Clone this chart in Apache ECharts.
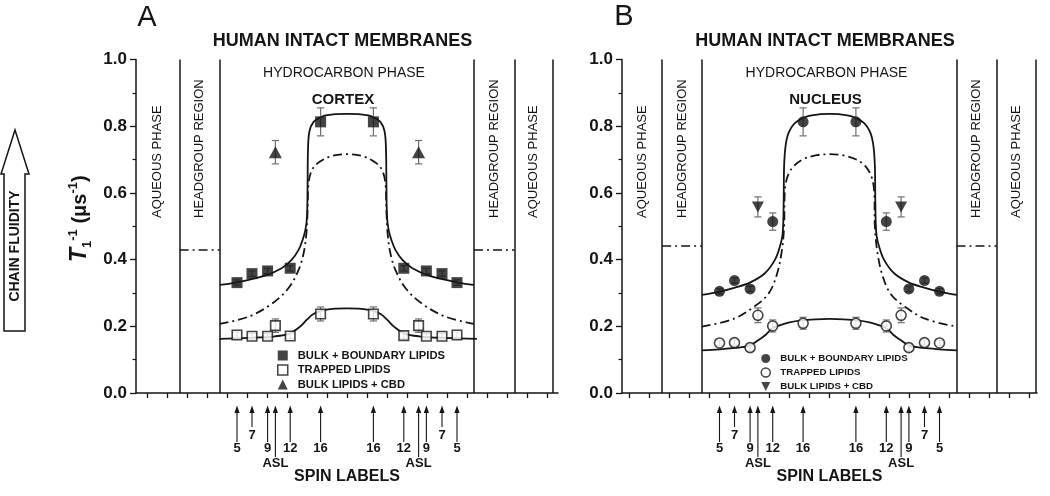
<!DOCTYPE html>
<html><head><meta charset="utf-8">
<script src="https://cdn.jsdelivr.net/npm/echarts@6/dist/echarts.min.js"></script>
<style>html,body{margin:0;padding:0;background:#fff}#c{width:1050px;height:496px}</style>
</head><body><div id="c"></div>
<script>
// ---------------- data ----------------
const spinLabels = ['5','7','9','ASL','12','16','16','12','ASL','9','7','5'];
const spinPos = [-5.5,-4.75,-3.97,-3.58,-2.84,-1.32,1.32,2.84,3.58,3.97,4.75,5.5];
const regionBounds = [-8.37,-6.37,6.35,8.37,10.3];
const xTicks = [-10,-9,-8,-7,-6,-5,-4,-3,-2,-1,0,1,2,3,4,5,6,7,8,9,10];
const headgroupLevelA = 0.43;
const headgroupLevelB = 0.443;

// Panel A : cortex
const cortexBulkX = [-5.5,-4.75,-3.97,-2.84,-1.32,1.32,2.84,3.97,4.75,5.5];
const cortexBulkY = [0.331,0.358,0.366,0.374,0.813,0.813,0.374,0.366,0.358,0.331];
const cortexBulkErr = [0.008,0.008,0.008,0.008,0.042,0.042,0.008,0.008,0.008,0.008];
const cortexTrappedX = [-5.5,-4.75,-3.97,-3.58,-2.84,-1.32,1.32,2.84,3.58,3.97,4.75,5.5];
const cortexTrappedY = [0.174,0.170,0.170,0.202,0.171,0.237,0.237,0.172,0.202,0.170,0.170,0.174];
const cortexTrappedErr = [0.008,0.008,0.008,0.02,0.008,0.021,0.021,0.008,0.02,0.008,0.008,0.008];
const cortexCbdX = [-3.58,3.58];
const cortexCbdY = [0.722,0.722];
const cortexCbdErr = [0.035,0.035];
const cortexFitBulkX = [-6.37,-5.57,-4.1,-3.27,-2.77,-2.42,-2.22,-2.08,-2.0,-1.97,-1.95,-1.88,-1.67,-1.25,-0.58,0,0.58,1.25,1.67,1.88,1.95,1.97,2.0,2.08,2.22,2.42,2.77,3.27,4.1,5.57,6.35];
const cortexFitBulkY = [0.324,0.331,0.352,0.374,0.399,0.429,0.459,0.489,0.529,0.629,0.729,0.784,0.813,0.829,0.836,0.837,0.836,0.829,0.813,0.784,0.729,0.629,0.529,0.489,0.459,0.429,0.399,0.374,0.352,0.331,0.324];
const cortexFitDashX = [-6.37,-4.92,-3.77,-2.93,-2.42,-2.17,-2.03,-1.97,-1.92,-1.75,-1.42,-0.75,0,0.75,1.42,1.75,1.92,1.97,2.03,2.17,2.42,2.93,3.77,4.92,6.35];
const cortexFitDashY = [0.207,0.229,0.267,0.314,0.369,0.419,0.479,0.549,0.629,0.669,0.691,0.711,0.716,0.711,0.691,0.669,0.629,0.549,0.479,0.419,0.369,0.314,0.267,0.229,0.207];
const cortexFitTrappedX = [-6.37,-4.92,-3.6,-2.85,-2.35,-2.02,-1.68,-1.25,-0.58,0,0.58,1.25,1.68,2.02,2.35,2.85,3.6,4.92,6.5];
const cortexFitTrappedY = [0.162,0.165,0.170,0.179,0.199,0.219,0.237,0.247,0.253,0.254,0.253,0.247,0.237,0.219,0.199,0.179,0.170,0.165,0.162];

// Panel B : nucleus
const nucleusBulkX = [-5.5,-4.75,-3.97,-2.84,-1.32,1.32,2.84,3.97,4.75,5.5];
const nucleusBulkY = [0.305,0.337,0.312,0.514,0.813,0.813,0.514,0.312,0.337,0.305];
const nucleusBulkErr = [0.008,0.008,0.008,0.026,0.042,0.042,0.026,0.008,0.008,0.008];
const nucleusTrappedX = [-5.5,-4.75,-3.97,-3.58,-2.84,-1.32,1.32,2.84,3.58,3.97,4.75,5.5];
const nucleusTrappedY = [0.150,0.151,0.136,0.233,0.201,0.209,0.209,0.201,0.233,0.136,0.151,0.150];
const nucleusTrappedErr = [0.008,0.008,0.01,0.022,0.018,0.018,0.018,0.018,0.022,0.01,0.008,0.008];
const nucleusCbdX = [-3.58,3.58];
const nucleusCbdY = [0.558,0.558];
const nucleusCbdErr = [0.03,0.03];
const nucleusFitBulkX = [-6.39,-5.48,-4.73,-3.98,-3.23,-2.73,-2.48,-2.34,-2.29,-2.27,-2.2,-2.05,-1.72,-1.14,-0.48,0,0.48,1.14,1.72,2.05,2.2,2.27,2.29,2.34,2.48,2.73,3.23,3.98,4.73,5.48,6.37];
const nucleusFitBulkY = [0.294,0.304,0.316,0.331,0.359,0.399,0.439,0.479,0.579,0.679,0.739,0.779,0.810,0.829,0.836,0.837,0.836,0.829,0.810,0.779,0.739,0.679,0.579,0.479,0.439,0.399,0.359,0.331,0.316,0.304,0.294];
const nucleusFitDashX = [-6.39,-4.81,-3.81,-3.06,-2.64,-2.39,-2.27,-2.24,-2.11,-1.81,-1.31,-0.64,0,0.64,1.31,1.81,2.11,2.24,2.27,2.39,2.64,3.06,3.81,4.81,6.37];
const nucleusFitDashY = [0.199,0.222,0.257,0.297,0.354,0.424,0.499,0.599,0.647,0.679,0.701,0.713,0.716,0.713,0.701,0.679,0.647,0.599,0.499,0.424,0.354,0.297,0.257,0.222,0.199];
const nucleusFitTrappedX = [-6.39,-5.5,-4.7,-4.0,-3.57,-3.2,-2.85,-2.5,-2.0,-1.4,-0.7,0,0.7,1.4,2.0,2.5,2.85,3.2,3.57,4.0,4.7,5.5,6.37];
const nucleusFitTrappedY = [0.128,0.131,0.135,0.142,0.158,0.174,0.194,0.203,0.212,0.218,0.221,0.222,0.221,0.218,0.212,0.203,0.194,0.174,0.158,0.142,0.135,0.131,0.128];

// ---------------- styling / helpers ----------------
const FONT = "'Liberation Sans', Arial, Helvetica, sans-serif";
const INK = '#151515';
const DASHDOT = [9, 4, 2, 4];
const DOWN_TRI = 'path://M0,0L10,0L5,10Z';
const NAME_BULK = 'BULK + BOUNDARY LIPIDS', NAME_TRAP = 'TRAPPED LIPIDS', NAME_CBD = 'BULK LIPIDS + CBD';

function pts(xs, ys) { return xs.map((x, i) => [x, ys[i]]); }
function errPts(xs, ys, es) { return xs.map((x, i) => [x, ys[i], es[i]]); }

function errorBar(params, api) {
  const x = api.value(0), y = api.value(1), e = api.value(2);
  const t = api.coord([x, y + e]), b = api.coord([x, y - e]);
  const hw = 3.6, st = {stroke: '#707070', lineWidth: 1.2, fill: null};
  return {type: 'group', children: [
    {type: 'line', shape: {x1: t[0], y1: t[1], x2: b[0], y2: b[1]}, style: st},
    {type: 'line', shape: {x1: t[0] - hw, y1: t[1], x2: t[0] + hw, y2: t[1]}, style: st},
    {type: 'line', shape: {x1: b[0] - hw, y1: b[1], x2: b[0] + hw, y2: b[1]}, style: st}
  ]};
}

function spinArrow(params, api) {
  const lab = spinLabels[params.dataIndex];
  const p = api.coord([api.value(0), 0]);
  const x = p[0], y0 = p[1];
  const tip = y0 + 12.5;
  const end = lab === '7' ? y0 + 34 : (lab === 'ASL' ? y0 + 64 : y0 + 49);
  const ty = lab === '7' ? y0 + 42 : (lab === 'ASL' ? y0 + 70 : y0 + 55.5);
  return {type: 'group', children: [
    {type: 'polygon', shape: {points: [[x, tip], [x - 2.6, tip + 7.5], [x + 2.6, tip + 7.5]]}, style: {fill: INK}},
    {type: 'line', shape: {x1: x, y1: tip + 5, x2: x, y2: end}, style: {stroke: INK, lineWidth: 1.1}},
    {type: 'text', x: x, y: ty, style: {text: lab, fill: INK, font: 'bold 13px ' + FONT,
      align: 'center', verticalAlign: 'middle', textAlign: 'center', textVerticalAlign: 'middle'}}
  ]};
}

function fit(gi, xs, ys, dashed, extra) {
  return Object.assign({
    type: 'line', xAxisIndex: gi, yAxisIndex: gi, data: pts(xs, ys),
    smooth: 0.35, symbol: 'none', showSymbol: false, silent: true, z: 2,
    lineStyle: {color: INK, width: 1.8, type: dashed ? DASHDOT : 'solid'}
  }, extra || {});
}

function boundaryLines() {
  return {silent: true, symbol: ['none', 'none'], label: {show: false}, animation: false,
    lineStyle: {color: INK, width: 1.5, type: 'solid'},
    emphasis: {disabled: true},
    data: regionBounds.map(v => ({xAxis: v}))};
}
function headgroupLines(level) {
  return {silent: true, symbol: ['none', 'none'], label: {show: false}, animation: false,
    lineStyle: {color: INK, width: 1.6, type: DASHDOT},
    emphasis: {disabled: true},
    data: [
      [{coord: [regionBounds[0], level]}, {coord: [regionBounds[1], level]}],
      [{coord: [regionBounds[2], level]}, {coord: [regionBounds[3], level]}]
    ]};
}

function panelSeries(gi, d) {
  return [
    fit(gi, d.fitBulkX, d.fitBulkY, false, {markLine: boundaryLines()}),
    fit(gi, d.fitDashX, d.fitDashY, true, {markLine: headgroupLines(d.head)}),
    fit(gi, d.fitTrapX, d.fitTrapY, false),
    {type: 'custom', xAxisIndex: gi, yAxisIndex: gi, renderItem: errorBar, encode: {x: 0, y: 1}, z: 3, silent: true,
      data: errPts(d.bulkX, d.bulkY, d.bulkE)},
    {type: 'custom', xAxisIndex: gi, yAxisIndex: gi, renderItem: errorBar, encode: {x: 0, y: 1}, z: 3, silent: true,
      data: errPts(d.trapX, d.trapY, d.trapE)},
    {type: 'custom', xAxisIndex: gi, yAxisIndex: gi, renderItem: errorBar, encode: {x: 0, y: 1}, z: 3, silent: true,
      data: errPts(d.cbdX, d.cbdY, d.cbdE)},
    {type: 'scatter', name: NAME_BULK, xAxisIndex: gi, yAxisIndex: gi, data: pts(d.bulkX, d.bulkY), z: 5,
      symbol: d.bulkSym, symbolSize: d.bulkSize, itemStyle: {color: INK}},
    {type: 'scatter', name: NAME_TRAP, xAxisIndex: gi, yAxisIndex: gi, data: pts(d.trapX, d.trapY), z: 5,
      symbol: d.bulkSym, symbolSize: d.trapSize, itemStyle: {color: '#fff', borderColor: INK, borderWidth: 1.6}},
    {type: 'scatter', name: NAME_CBD, xAxisIndex: gi, yAxisIndex: gi, data: pts(d.cbdX, d.cbdY), z: 5,
      symbol: d.cbdSym, symbolSize: d.cbdSize, itemStyle: {color: INK}},
    {type: 'custom', xAxisIndex: gi, yAxisIndex: gi, renderItem: spinArrow, encode: {x: 0, y: 1}, clip: false, silent: true,
      data: spinPos.map(p => [p, 0])}
  ];
}

const panelA = {fitBulkX: cortexFitBulkX, fitBulkY: cortexFitBulkY, fitDashX: cortexFitDashX, fitDashY: cortexFitDashY,
  fitTrapX: cortexFitTrappedX, fitTrapY: cortexFitTrappedY, head: headgroupLevelA,
  bulkX: cortexBulkX, bulkY: cortexBulkY, bulkE: cortexBulkErr,
  trapX: cortexTrappedX, trapY: cortexTrappedY, trapE: cortexTrappedErr,
  cbdX: cortexCbdX, cbdY: cortexCbdY, cbdE: cortexCbdErr,
  bulkSym: 'rect', bulkSize: 11, trapSize: 9.5, cbdSym: 'triangle', cbdSize: [13, 12]};
const panelB = {fitBulkX: nucleusFitBulkX, fitBulkY: nucleusFitBulkY, fitDashX: nucleusFitDashX, fitDashY: nucleusFitDashY,
  fitTrapX: nucleusFitTrappedX, fitTrapY: nucleusFitTrappedY, head: headgroupLevelB,
  bulkX: nucleusBulkX, bulkY: nucleusBulkY, bulkE: nucleusBulkErr,
  trapX: nucleusTrappedX, trapY: nucleusTrappedY, trapE: nucleusTrappedErr,
  cbdX: nucleusCbdX, cbdY: nucleusCbdY, cbdE: nucleusCbdErr,
  bulkSym: 'circle', bulkSize: 11, trapSize: 10, cbdSym: DOWN_TRI, cbdSize: [12, 11]};

function xAxisCfg(gi, lim) {
  return {gridIndex: gi, type: 'value', min: -lim, max: lim,
    name: 'SPIN LABELS', nameLocation: 'middle', nameGap: 76,
    nameTextStyle: {fontFamily: FONT, fontWeight: 'bold', fontSize: 16, color: INK},
    axisLine: {onZero: false, lineStyle: {color: INK, width: 1.5}},
    axisTick: {show: true, customValues: xTicks, length: 5, lineStyle: {color: INK, width: 1.3}},
    axisLabel: {show: false}, splitLine: {show: false}};
}
function yAxisCfg(gi) {
  return {gridIndex: gi, type: 'value', min: 0, max: 1, interval: 0.2,
    axisLine: {show: true, onZero: false, lineStyle: {color: INK, width: 1.5}},
    axisTick: {show: true, length: 6, lineStyle: {color: INK, width: 1.3}},
    minorTick: {show: true, splitNumber: 2, length: 3.5, lineStyle: {color: INK, width: 1.2}},
    axisLabel: {fontFamily: FONT, fontWeight: 'bold', fontSize: 17, color: INK, margin: 9, formatter: v => v.toFixed(1)},
    splitLine: {show: false}};
}

function legendCfg(left, top, size, fontSize, gap, icons) {
  return {orient: 'vertical', left: left, top: top, itemWidth: size, itemHeight: size, itemGap: gap,
    selectedMode: false, padding: 0,
    textStyle: {fontFamily: FONT, fontWeight: 'bold', fontSize: fontSize, color: INK, padding: [0, 0, 0, 5]},
    data: [
      {name: NAME_BULK, icon: icons[0], itemStyle: {color: INK, borderWidth: 0}},
      {name: NAME_TRAP, icon: icons[0], itemStyle: {color: '#fff', borderColor: INK, borderWidth: 1.5}},
      {name: NAME_CBD, icon: icons[1], itemStyle: {color: INK, borderWidth: 0}}
    ]};
}

const chart = echarts.init(document.getElementById('c'), null, {renderer: 'canvas', width: 1050, height: 496});
chart.setOption({
  animation: false,
  backgroundColor: '#fff',
  textStyle: {fontFamily: FONT},
  grid: [
    {left: 136, top: 59.5, width: 422, height: 333.5},
    {left: 622, top: 59.5, width: 415, height: 333.5}
  ],
  xAxis: [xAxisCfg(0, 10.55), xAxisCfg(1, 10.375)],
  yAxis: [yAxisCfg(0), yAxisCfg(1)],
  legend: [
    legendCfg(277, 350, 10, 11.2, 3.3, ['rect', 'triangle']),
    legendCfg(760.5, 353.5, 9, 9.7, 3.8, ['circle', DOWN_TRI])
  ],
  series: panelSeries(0, panelA).concat(panelSeries(1, panelB))
});

// ---------------- annotations ----------------
function px(gi, x, y) { return chart.convertToPixel({gridIndex: gi}, [x, y]); }
function txt(x, y, s, font, extra) {
  return Object.assign({type: 'text', x: x, y: y, silent: true,
    style: {text: s, font: font, fill: INK, align: 'center', verticalAlign: 'middle',
      textAlign: 'center', textVerticalAlign: 'middle'}}, extra || {});
}
function vtxt(x, y, s, font) {
  return {type: 'text', x: x, y: y, rotation: Math.PI / 2, silent: true,
    style: {text: s, font: font, fill: INK, align: 'left', verticalAlign: 'middle',
      textAlign: 'left', textVerticalAlign: 'middle'}};
}
const g = [];
const panels = [{gi: 0, lim: 10.55, sub: 'CORTEX'}, {gi: 1, lim: 10.375, sub: 'NUCLEUS'}];
panels.forEach(p => {
  const cx = px(p.gi, 0, 0)[0];
  g.push(txt(cx - 4.5, 41, 'HUMAN INTACT MEMBRANES', 'bold 18px ' + FONT));
  g.push(txt(cx - 3, 73, 'HYDROCARBON PHASE', '14px ' + FONT));
  g.push(txt(cx - 4, 99.5, p.sub, 'bold 15px ' + FONT));
  const edges = [-p.lim].concat(regionBounds);
  const labels = ['AQUEOUS PHASE', 'HEADGROUP REGION', null, 'HEADGROUP REGION', 'AQUEOUS PHASE'];
  for (let i = 0; i < labels.length; i++) {
    if (!labels[i]) continue;
    const mx = px(p.gi, (edges[i] + edges[i + 1]) / 2, 0)[0];
    g.push(vtxt(mx, 218, labels[i], '13px ' + FONT));
  }
});
g.push(txt(147, 18, 'A', '29px ' + FONT));
g.push(txt(624, 17, 'B', '29px ' + FONT));
// y-axis title
g.push({type: 'text', x: 80, y: 262, rotation: Math.PI / 2, silent: true,
  style: {text: '{t|T}{s|1}{p|-1}{n| (\u03bcs}{p|-1}{n|)}', fill: INK, align: 'left', verticalAlign: 'middle',
    textAlign: 'left', textVerticalAlign: 'middle', font: 'bold 20px ' + FONT,
    rich: {
      t: {font: 'italic bold 23px ' + FONT, lineHeight: 27, fill: INK},
      s: {font: 'bold 13px ' + FONT, lineHeight: 13, verticalAlign: 'bottom', fill: INK},
      p: {font: 'bold 13px ' + FONT, lineHeight: 13, verticalAlign: 'top', fill: INK},
      n: {font: 'bold 20px ' + FONT, lineHeight: 27, fill: INK}
    }}});
// chain fluidity arrow
g.push({type: 'polygon', silent: true,
  shape: {points: [[4, 331], [25, 331], [25, 174], [29, 174], [15, 130], [1, 174], [4, 174]]},
  style: {fill: '#fff', stroke: INK, lineWidth: 1.5}});
g.push({type: 'text', x: 15, y: 246, rotation: Math.PI / 2, silent: true,
  style: {text: 'CHAIN FLUIDITY', font: 'bold 14px ' + FONT, fill: INK, align: 'center', verticalAlign: 'middle',
    textAlign: 'center', textVerticalAlign: 'middle'}});
chart.setOption({graphic: g});
</script></body></html>
